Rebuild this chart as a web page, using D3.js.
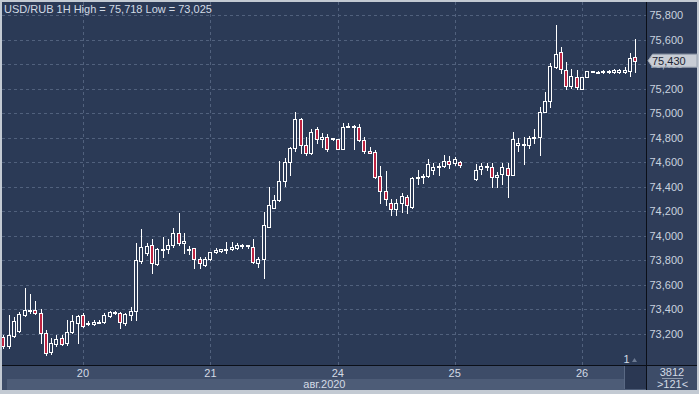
<!DOCTYPE html>
<html><head><meta charset="utf-8">
<script src="https://cdn.jsdelivr.net/npm/d3@7"></script>
<style>
html,body{margin:0;padding:0;background:#c3cad3;overflow:hidden}
svg{display:block}
text{font-family:"Liberation Sans Narrow","Arial Narrow","Liberation Sans",Arial,sans-serif;font-size:11px}
</style>
</head><body>
<svg id="c" width="699" height="394"></svg>
<script>
// ---- data (hourly candles, index 0 = first visible hour; null = missing hour) ----
const open=[73176,73102,73184,73224,73355,73388,73396,73371,73208,73053,73119,73167,73127,73216,73290,73355,73282,73282,73292,73298,
73347,73371,73371,73290,73355,73388,73798,73863,73924,73771,73888,73891,73926,74026,73940,73885,73899,73809,73760,73809,
73866,73880,73885,73891,73899,73918,73918,73907,73782,73809,74075,74225,74293,74448,74601,74720,74951,74739,74674,74870,
74788,74805,74788,74788,74707,74886,74891,74886,74783,74696,74682,74489,74367,74266,74222,74266,74320,74234,74470,74478,
74489,74538,74565,74570,74614,74592,74606,null,null,74462,74544,74565,74565,74483,74505,74552,74500,74744,74748,74744,
74796,74805,75009,75103,75381,75498,75351,75221,75299,75201,75294,75335,75332,75335,75337,75340,75340,75340,75348,75457];
const high=[73192,73355,73339,73379,73575,73526,73469,73404,73233,73167,73192,73192,73314,73355,73355,73371,73306,73314,73314,73371,
73388,73388,73379,73371,73420,73942,74054,73942,73975,73904,73991,73975,74065,74185,74024,73918,73902,73831,73831,73871,
73899,73897,73948,73948,73945,73932,73926,73972,73826,74193,74402,74334,74611,74633,74723,75014,74959,74805,74870,74891,
74837,74831,74797,74788,74919,74919,74905,74913,74805,74728,74701,74570,74532,74299,74299,74348,74334,74484,74538,74505,
74625,74592,74592,74660,74652,74642,74611,null,null,74584,74597,74597,74597,74524,74592,74592,74850,74802,74805,74815,
74872,75054,75177,75408,75718,75539,75421,75364,75351,75294,75343,75343,75348,75354,75354,75362,75359,75376,75490,75604];
const low=[73086,73086,73176,73216,73347,73371,73363,73127,73025,73037,73102,73110,73110,73208,73127,73257,73273,73273,73288,73290,
73339,73363,73249,73273,73314,73314,73782,73844,73695,73763,73828,73863,73912,73926,73858,73853,73736,73736,73755,73804,
73858,73873,73863,73885,73891,73899,73899,73782,73749,73654,74075,74225,74288,74407,74497,74695,74679,74660,74668,74761,
74723,74695,74786,74707,74707,74886,74707,74777,74679,74674,74470,74266,74252,74171,74171,74198,74190,74225,74424,74429,
74484,74505,74497,74565,74552,74579,74565,null,null,74456,74505,74538,74397,74397,74424,74315,74500,74695,74584,74715,
74761,74660,75009,75054,75368,75332,75201,75209,75199,75201,75294,75335,75327,75327,75332,75332,75332,75327,75307,75340];
const close=[73102,73192,73306,73363,73396,73396,73371,73208,73045,73127,73159,73119,73216,73306,73347,73265,73290,73298,73298,73355,
73379,73379,73298,73363,73388,73804,73907,73918,73777,73891,73896,73926,74026,73940,73956,73891,73809,73777,73814,73866,
73885,73891,73891,73912,73929,73926,73926,73787,73809,74087,74250,74293,74448,74603,74715,74951,74742,74674,74850,74788,
74810,74707,74795,74707,74886,74897,74899,74783,74693,74674,74483,74367,74299,74222,74271,74326,74250,74473,74478,74491,
74587,74565,74573,74614,74584,74625,74579,null,null,74538,74570,74570,74483,74495,74560,74500,74788,74756,74750,74796,
74805,75009,75103,75386,75482,75359,75221,75302,75213,75294,75343,75343,75337,75343,75345,75354,75351,75351,75454,75430];
const dayLabels=["20","21","24","25","26"];
const dayStartIndex=[15,39,63,85,109];
const yTicks=[73200,73400,73600,73800,74000,74200,74400,74600,74800,75000,75200,75400,75600,75800];
const title="USD/RUB 1H High = 75,718 Low = 73,025";
const monthLabel="авг.2020";
const lastPrice=75430;
const barCountLabel="3812", visibleLabel=">121<", paneLabel="1";

// ---- layout ----
const W=699,H=394;
const PL=2,PR=646,PT=2,PB=365;
const BG="#2b3a56", GRID="#51617d", TXT="#d3dae5", RED="#bd2341";
const svg=d3.select("#c");
const fmt=d3.format(",");
const fmtRu=v=>fmt(v);

const x=d3.scaleLinear().domain([0,open.length-1]).range([3.35,635.2]);
const y=d3.scaleLinear().domain([73200,75800]).range([334,15.3]);

svg.append("rect").attr("width",W).attr("height",H).attr("fill","#c3cad3");
svg.append("rect").attr("x",PL).attr("y",PT).attr("width",PR-PL).attr("height",PB-PT).attr("fill",BG);
svg.append("rect").attr("x",647).attr("y",PT).attr("width",50).attr("height",PB-PT).attr("fill","#2f3d59");
// bottom axis rows
svg.append("rect").attr("x",PL).attr("y",366).attr("width",PR-PL).attr("height",24).attr("fill","#3d4c68");
svg.append("rect").attr("x",7).attr("y",379).attr("width",PR-7).attr("height",11).attr("fill","#4d5c77");
svg.append("rect").attr("x",647).attr("y",366).attr("width",50).attr("height",24).attr("fill","#3d4c68");
svg.append("rect").attr("x",625).attr("y",366).attr("width",21).attr("height",23).attr("fill","#2b3853");
svg.append("line").attr("x1",624.5).attr("x2",624.5).attr("y1",366).attr("y2",389).attr("stroke","#5a6984");

const defs=svg.append("defs");
defs.append("clipPath").attr("id","plot").append("rect").attr("x",PL).attr("y",PT).attr("width",PR-PL).attr("height",PB-PT);
const g=svg.append("g").attr("clip-path","url(#plot)").attr("shape-rendering","crispEdges");

// grid
g.selectAll("line.h").data(yTicks).join("line").attr("class","h")
 .attr("x1",PL).attr("x2",PR).attr("y1",d=>Math.round(y(d))+0.5).attr("y2",d=>Math.round(y(d))+0.5)
 .attr("stroke",GRID).attr("stroke-dasharray","3,3");
g.selectAll("line.v").data(dayStartIndex).join("line").attr("class","v")
 .attr("x1",d=>Math.round(x(d))+0.5).attr("x2",d=>Math.round(x(d))+0.5).attr("y1",PT).attr("y2",PB)
 .attr("stroke",GRID).attr("stroke-dasharray","3,3");

// candles
const candles=open.map((o,i)=>({i,o,h:high[i],l:low[i],c:close[i]})).filter(d=>d.o!=null);
const cg=g.selectAll("g.c").data(candles).join("g").attr("class","c");
cg.append("line")
 .attr("x1",d=>Math.round(x(d.i))+0.5).attr("x2",d=>Math.round(x(d.i))+0.5)
 .attr("y1",d=>Math.round(y(d.h))).attr("y2",d=>Math.round(y(d.l))+1)
 .attr("stroke","#ffffff");
cg.append("rect")
 .attr("x",d=>Math.round(x(d.i))-1.5).attr("width",3)
 .attr("y",d=>Math.round(y(Math.max(d.o,d.c)))+0.5)
 .attr("height",d=>Math.max(1,Math.round(y(Math.min(d.o,d.c)))-Math.round(y(Math.max(d.o,d.c)))))
 .attr("fill",d=>d.c<d.o?RED:BG).attr("stroke","#ffffff");

// frame lines
svg.append("line").attr("x1",646.5).attr("x2",646.5).attr("y1",PT).attr("y2",390).attr("stroke","#0b0f18");
svg.append("line").attr("x1",PL).attr("x2",697).attr("y1",365.5).attr("y2",365.5).attr("stroke","#0b0f18");

// title
svg.append("text").attr("x",4).attr("y",12.5).attr("fill",TXT).text(title);

// y axis labels
svg.selectAll("text.yl").data(yTicks).join("text").attr("class","yl")
 .attr("x",649.5).attr("y",d=>y(d)+4).attr("fill","#c9d2df").text(d=>fmtRu(d));

// last price marker
const yl=y(lastPrice);
svg.append("path").attr("d",`M648,${yl} L652.5,${yl-6.5} L697,${yl-6.5} L697,${yl+6.5} L652.5,${yl+6.5} Z`)
 .attr("fill","#c8cdd5").attr("stroke","#9ba4b2");
svg.append("text").attr("x",652).attr("y",yl+4).attr("fill","#1d2533").text(fmtRu(lastPrice));

// x axis day labels
svg.selectAll("text.xl").data(dayStartIndex).join("text").attr("class","xl")
 .attr("x",d=>x(d)).attr("y",376.5).attr("text-anchor","middle").attr("fill",TXT).text((d,i)=>dayLabels[i]);
svg.append("text").attr("x",345.5).attr("y",387.5).attr("text-anchor","end").attr("fill",TXT).text(monthLabel);

// bottom-right cell
svg.append("text").attr("x",672).attr("y",376).attr("text-anchor","middle").attr("fill",TXT).text(barCountLabel);
svg.append("line").attr("x1",662).attr("x2",683).attr("y1",378.5).attr("y2",378.5).attr("stroke","#8d99ac");
svg.append("text").attr("x",672.5).attr("y",387.5).attr("text-anchor","middle").attr("fill",TXT).text(visibleLabel);

// pane label
svg.append("text").attr("x",623.5).attr("y",363).attr("fill",TXT).text(paneLabel);
svg.append("path").attr("d","M632,362 L634.5,358 L637,362 Z").attr("fill","#6c7a92");
</script>
</body></html>
